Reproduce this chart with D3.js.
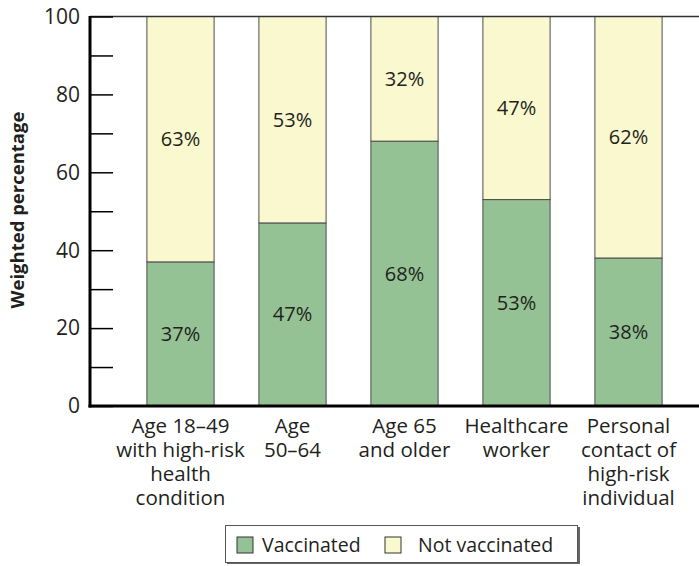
<!DOCTYPE html>
<html>
<head>
<meta charset="utf-8">
<script src="https://cdn.jsdelivr.net/npm/d3@7"></script>
<style>
  body { margin: 0; background: #fff; }
  text { font-family: "Open Sans", "Noto Sans", sans-serif; fill: #231f20; }
</style>
</head>
<body>
<div id="chart"></div>
<script>
// data
const groups = ["g1", "g2", "g3", "g4", "g5"];
const groupLabels = [
  ["Age 18–49", "with high-risk", "health", "condition"],
  ["Age", "50–64"],
  ["Age 65", "and older"],
  ["Healthcare", "worker"],
  ["Personal", "contact of", "high-risk", "individual"]
];
const vaccinated = [37, 47, 68, 53, 38];
const notVaccinated = [63, 53, 32, 47, 62];
const seriesNames = ["Vaccinated", "Not vaccinated"];
const seriesColors = ["#94c294", "#faf8cf"];
const majorTicks = [0, 20, 40, 60, 80, 100];
const allTicks = [0, 10, 20, 30, 40, 50, 60, 70, 80, 90, 100];

const width = 699, height = 566;
const axisX = 90, plotTop = 16.5, plotBottom = 406;

const svg = d3.select("#chart").append("svg")
  .attr("width", width).attr("height", height);

/*---scales---*/
const x = d3.scaleBand()
  .domain(groups)
  .range([124.5, 684.5])
  .paddingInner(0.4)
  .paddingOuter(0.2);

const y = d3.scaleLinear()
  .domain([0, 100])
  .range([plotBottom, plotTop]);

/*---stacked bars---*/
const rows = groups.map((g, i) => ({ g: g, v0: vaccinated[i], v1: notVaccinated[i] }));
const stack = d3.stack().keys(["v0", "v1"])(rows);

const layer = svg.append("g").selectAll("g")
  .data(stack)
  .enter().append("g")
  .attr("fill", (d, i) => seriesColors[i]);

layer.selectAll("rect")
  .data(d => d)
  .enter().append("rect")
  .attr("x", d => x(d.data.g))
  .attr("y", d => y(d[1]))
  .attr("width", x.bandwidth())
  .attr("height", d => y(d[0]) - y(d[1]))
  .attr("stroke", "#4d4d4d")
  .attr("stroke-width", 1);

layer.selectAll("text")
  .data(d => d)
  .enter().append("text")
  .attr("x", d => x(d.data.g) + x.bandwidth() / 2)
  .attr("y", d => (y(d[0]) + y(d[1])) / 2)
  .attr("dy", "0.35em")
  .attr("text-anchor", "middle")
  .style("font-size", "20px")
  .text(d => (d[1] - d[0]) + "%");

/*---axes---*/
// top frame line
svg.append("line")
  .attr("x1", axisX).attr("x2", width)
  .attr("y1", plotTop).attr("y2", plotTop)
  .attr("stroke", "#333").attr("stroke-width", 1.5);

const yAxis = d3.axisRight(y)
  .tickValues(allTicks)
  .tickSize(23)
  .tickFormat("");
const yg = svg.append("g")
  .attr("transform", "translate(" + axisX + ",0)")
  .call(yAxis);
yg.select(".domain").remove();
yg.selectAll(".tick line").attr("stroke", "#000").attr("stroke-width", 1.5);

svg.append("g").selectAll("text")
  .data(majorTicks)
  .enter().append("text")
  .attr("x", 80)
  .attr("y", d => y(d))
  .attr("dy", "0.35em")
  .attr("text-anchor", "end")
  .style("font-size", "21px")
  .text(d => d);

svg.append("line")
  .attr("x1", axisX).attr("x2", axisX)
  .attr("y1", plotTop - 0.5).attr("y2", plotBottom + 1.5)
  .attr("stroke", "#000").attr("stroke-width", 3);

svg.append("line")
  .attr("x1", axisX - 1.5).attr("x2", width)
  .attr("y1", plotBottom).attr("y2", plotBottom)
  .attr("stroke", "#000").attr("stroke-width", 3);

svg.append("text")
  .attr("transform", "translate(24," + 210 + ") rotate(-90)")
  .attr("text-anchor", "middle")
  .style("font-size", "18.5px")
  .style("font-weight", "bold")
  .text("Weighted percentage");

// category labels
const xl = svg.append("g").selectAll("text")
  .data(groups)
  .enter().append("text")
  .attr("x", d => x(d) + x.bandwidth() / 2)
  .attr("y", 433)
  .attr("text-anchor", "middle")
  .style("font-size", "20.5px");

xl.selectAll("tspan")
  .data((d, i) => groupLabels[i])
  .enter().append("tspan")
  .attr("x", function() { return this.parentNode.getAttribute("x"); })
  .attr("dy", (d, i) => i === 0 ? 0 : 24)
  .text(d => d);

/*---legend---*/
const legend = svg.append("g");
legend.append("rect")
  .attr("x", 227).attr("y", 527)
  .attr("width", 353).attr("height", 37)
  .attr("fill", "#666");
legend.append("rect")
  .attr("x", 225.5).attr("y", 525.5)
  .attr("width", 352).attr("height", 37)
  .attr("fill", "#fff")
  .attr("stroke", "#555").attr("stroke-width", 1);

const legendX = [237, 385];
const items = legend.selectAll("g.item")
  .data(seriesNames)
  .enter().append("g")
  .attr("class", "item")
  .attr("transform", (d, i) => "translate(" + legendX[i] + ",537)");
items.append("rect")
  .attr("width", 16).attr("height", 16)
  .attr("fill", (d, i) => seriesColors[i])
  .attr("stroke", "#333").attr("stroke-width", 1);
items.append("text")
  .attr("x", (d, i) => i === 0 ? 25 : 33)
  .attr("y", 8)
  .attr("dy", "0.35em")
  .style("font-size", "19.5px")
  .text(d => d);
</script>
</body>
</html>
